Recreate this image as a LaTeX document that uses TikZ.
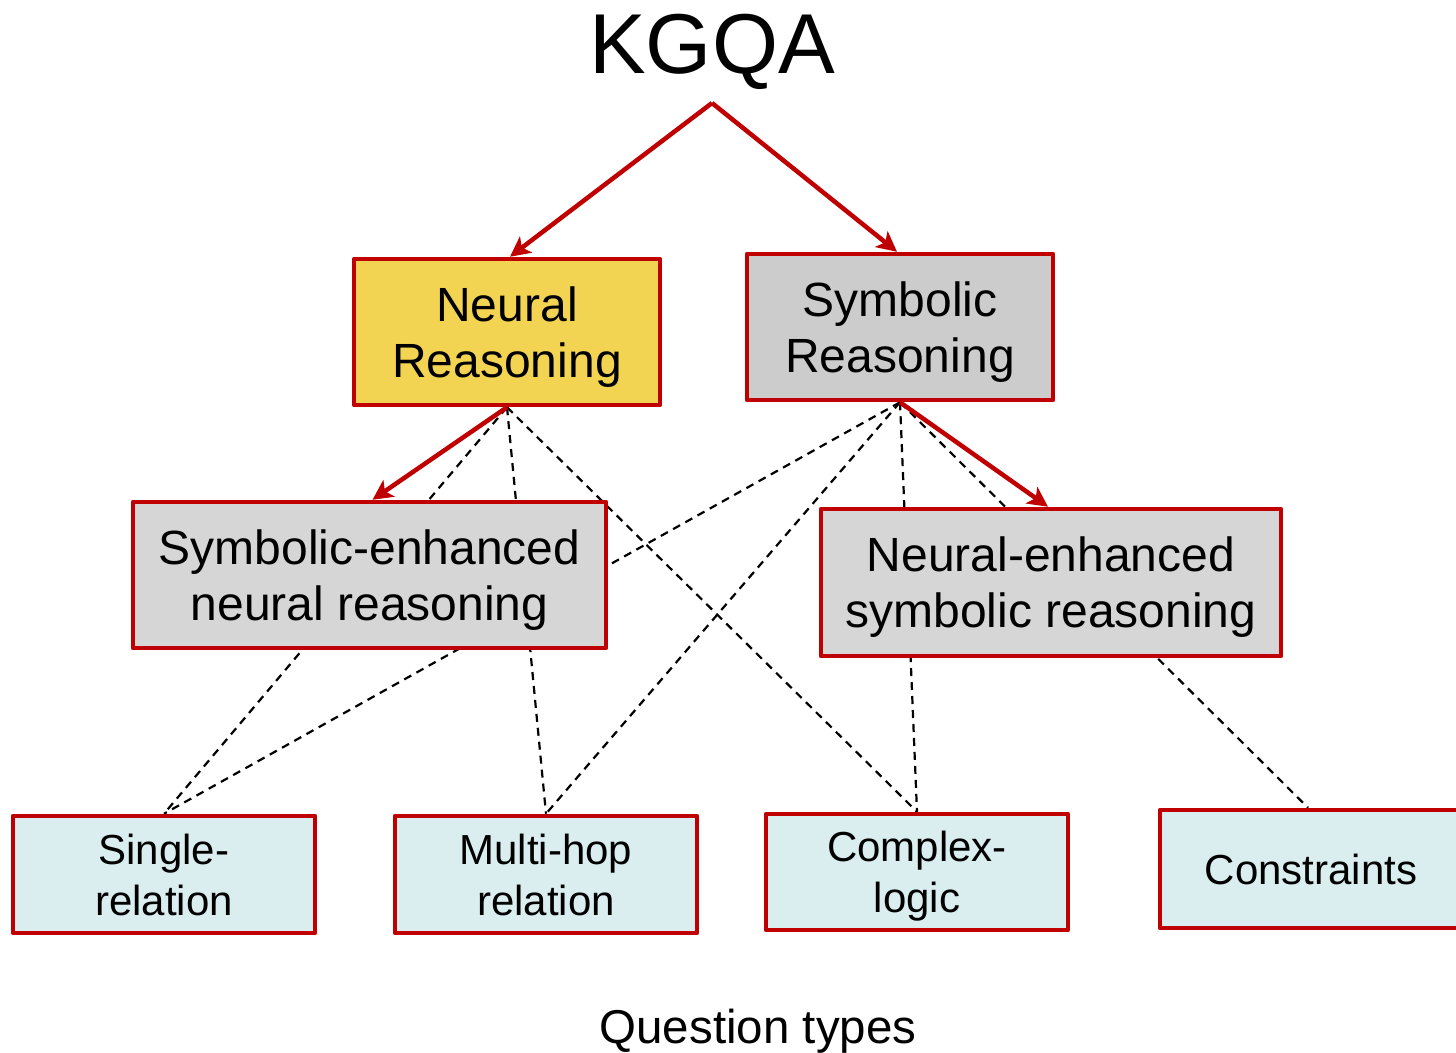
\documentclass[tikz,border=0pt]{standalone}
\usepackage{fontspec}
\setmainfont{Liberation Sans}
\usetikzlibrary{arrows.meta,backgrounds}

\definecolor{boxred}{RGB}{192,0,0}
\definecolor{neuralfill}{RGB}{243,212,82}
\definecolor{symbfill}{RGB}{204,204,204}
\definecolor{hybridfill}{RGB}{214,214,214}
\definecolor{qtypefill}{RGB}{218,237,239}

\tikzset{
  method/.style={draw=boxred, line width=4.5pt, line join=round, align=center,
    text depth=0pt, font=\fontsize{48}{56}\selectfont, inner sep=0pt},
  qtype/.style={draw=boxred, line width=4.5pt, line join=round, align=center,
    text depth=0pt, fill=qtypefill, minimum width=302pt,
    font=\fontsize{42}{51}\selectfont, inner sep=0pt},
  branch/.style={draw=boxred, line width=4.5pt,
    -{Stealth[length=20pt,width=20pt,inset=5pt]}},
  link/.style={draw=black, line width=2.2pt, dash pattern=on 8pt off 6pt}
}

\begin{document}
\begin{tikzpicture}[x=1pt,y=-1pt]
\useasboundingbox (0,0) rectangle (1456,1052);

% title and caption
\node[anchor=base, font=\fontsize{85}{100}\selectfont, inner sep=0pt] (kgqa) at (712,73) {KGQA};
\coordinate (apex) at (712,103);
\node[anchor=base, font=\fontsize{47.5}{55}\selectfont, inner sep=0pt] (caption) at (758,1043) {Question types};

% reasoning paradigms
\node[method, fill=neuralfill, minimum width=306pt, minimum height=146pt] (neural) at (507,332) {Neural\\Reasoning};
\node[method, fill=symbfill, minimum width=306pt, minimum height=146pt] (symbolic) at (900,327) {Symbolic\\Reasoning};
\node[method, fill=hybridfill, minimum width=473pt, minimum height=146pt] (senh) at (369.5,575) {Symbolic-enhanced\\neural reasoning};
\node[method, fill=hybridfill, minimum width=460pt, minimum height=147pt] (nenh) at (1051,582.5) {Neural-enhanced\\symbolic reasoning};

% question types
\node[qtype, minimum height=117pt] (single) at (164,874.5) {Single-\\relation};
\node[qtype, minimum height=117pt] (multi) at (546,874.5) {Multi-hop\\relation};
\node[qtype, minimum height=116pt] (complex) at (917,872) {Complex-\\logic};
\node[qtype, minimum height=118pt] (constr) at (1311,869) {Constraints};

% which paradigm handles which question type
\begin{scope}[on background layer]
  \draw[link] (neural.south) -- (single.north);
  \draw[link] (neural.south) -- (multi.north);
  \draw[link] (neural.south) -- (complex.north);
  \draw[link] (symbolic.south) -- (single.north);
  \draw[link] (symbolic.south) -- (multi.north);
  \draw[link] (symbolic.south) -- (complex.north);
  \draw[link] (symbolic.south) -- ([xshift=-3pt]constr.north);
\end{scope}

% taxonomy branches
\draw[branch] (apex) -- ([xshift=3pt]neural.north);
\draw[branch] (apex) -- ([xshift=-3pt]symbolic.north);
\draw[branch] (neural.south) -- ([xshift=3pt]senh.north);
\draw[branch] (symbolic.south) -- ([xshift=-3pt]nenh.north);
\end{tikzpicture}
\end{document}
